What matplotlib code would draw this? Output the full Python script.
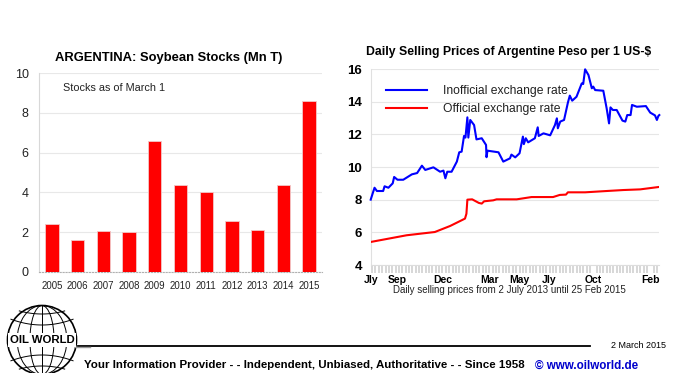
import matplotlib
matplotlib.use("Agg")
import matplotlib.pyplot as plt
from matplotlib.patches import Circle, Ellipse, Rectangle
import numpy as np

plt.rcParams['font.family'] = ['Liberation Sans', 'DejaVu Sans']

#------------------------------------------------------------------------------
# Data
#------------------------------------------------------------------------------
years = ['2005', '2006', '2007', '2008', '2009', '2010', '2011', '2012', '2013', '2014', '2015']
stocks = [2.4, 1.58, 2.03, 1.98, 6.57, 4.38, 4.02, 2.57, 2.1, 4.38, 8.6]

# days counted from 2 July 2013
days_blue = [0, 4, 8, 13, 26, 29, 37, 46, 49, 56, 68, 86, 97, 107, 114, 131, 145, 152, 156, 160,
             169, 180, 185, 190, 195, 198, 202, 204, 208, 216, 221, 232, 241, 242, 244, 267, 277,
             291, 294, 302, 311, 318, 320, 324, 329, 343, 349, 351, 361, 375, 385, 389, 391, 396,
             404, 412, 416, 421, 430, 441, 444, 448, 455, 462, 465, 469, 486, 493, 498, 501, 506,
             514, 526, 532, 536, 543, 546, 556, 575, 584, 594, 598, 601, 603]
inofficial = [8.0, 8.37, 8.73, 8.53, 8.53, 8.82, 8.73, 9.0, 9.39, 9.22, 9.22, 9.55, 9.63, 10.08, 9.82, 9.98, 9.71, 9.78, 9.31, 9.71,
              9.71, 10.33, 10.9, 10.94, 11.9, 11.8, 13.04, 11.8, 12.88, 12.57, 11.69, 11.76, 11.35, 10.6, 11.0, 10.9, 10.33,
              10.53, 10.76, 10.59, 10.84, 11.86, 11.4, 11.76, 11.51, 11.76, 12.43, 11.9, 12.06, 11.94, 12.57, 12.98, 12.37, 12.78,
              12.88, 13.94, 14.37, 14.06, 14.3, 15.12, 15.08, 15.98, 15.63, 14.82, 14.92, 14.71, 14.67, 13.59, 12.67, 13.65, 13.49,
              13.49, 12.84, 12.78, 13.18, 13.18, 13.8, 13.69, 13.73, 13.33, 13.16, 12.88, 13.12, 13.18]

days_red = [0, 75, 134, 166, 197, 200, 202, 212, 226, 232, 237, 256, 263, 305, 336, 381, 395, 408, 412, 448, 493, 528, 563, 603]
official = [5.41, 5.82, 6.02, 6.39, 6.84, 7.14, 8.0, 8.02, 7.8, 7.76, 7.9, 7.96, 8.02, 8.02, 8.16, 8.16, 8.29, 8.31, 8.45, 8.45, 8.53, 8.59, 8.63, 8.78]

month_days = [0, 56, 151, 249, 310, 372, 465, 584]
month_labels = ['Jly', 'Sep', 'Dec', 'Mar', 'May', 'Jly', 'Oct', 'Feb']

W, H = 675., 373.
fig = plt.figure(figsize=(W/100, H/100), dpi=100, facecolor='white')

def box(x0, ytop, x1, ybot):
  return [x0/W, 1-ybot/H, (x1-x0)/W, (ybot-ytop)/H]

#------------------------------------------------------------------------------
# Soybean stocks
#------------------------------------------------------------------------------
ax1 = fig.add_axes(box(39, 73.3, 322, 271.7))
ax1.bar(range(len(years)), stocks, width=0.52, color='#ff0000', edgecolor='#f3c8c8', linewidth=0.6, zorder=3)
ax1.set_xlim(-0.5, 10.5)
ax1.set_ylim(0, 10)
ax1.set_yticks(range(0, 11, 2))
ax1.set_xticks(range(len(years)))
ax1.set_xticklabels(years, fontsize=6.9, color='#222222')
ax1.tick_params(axis='y', length=0, labelsize=9, labelcolor='#222222', pad=7.5)
ax1.tick_params(axis='x', length=0, pad=7)
ax1.grid(axis='y', color='#e8e8e8', lw=0.8, zorder=0)
for s in ['top', 'right']:
  ax1.spines[s].set_visible(False)
ax1.spines['left'].set_color('#d8d8d8')
ax1.spines['bottom'].set_color('#b0b0b0')
ax1.spines['bottom'].set_linestyle(':')
fig.text(63/W, 1-88/H, 'Stocks as of March 1', fontsize=7.8, color='#222222', va='center')
fig.text(168.5/W, 1-58.5/H, 'ARGENTINA: Soybean Stocks (Mn T)', fontsize=9.35, fontweight='bold', ha='center', va='center')

#------------------------------------------------------------------------------
# Exchange rates
#------------------------------------------------------------------------------
ax2 = fig.add_axes(box(370.7, 69, 659.3, 265))
ax2.plot(days_blue, inofficial, color='#0000ff', lw=1.5, label='Inofficial exchange rate', zorder=3, clip_on=False)
ax2.plot(days_red, official, color='#ff0000', lw=1.5, label='Official exchange rate', zorder=3)
ax2.set_xlim(0, 603)
ax2.set_ylim(4, 16)
ax2.set_yticks(range(4, 17, 2))
ax2.set_xticks(month_days)
ax2.set_xticklabels(month_labels, fontweight='bold', fontsize=7.5)
ax2.set_xticks(np.arange(3, 604, 7), minor=True)
ax2.tick_params(axis='y', length=0, labelsize=9.5, pad=6)
for lab in ax2.get_yticklabels():
  lab.set_fontweight('bold')
ax2.tick_params(axis='x', which='major', length=0, pad=7)
ax2.tick_params(axis='x', which='minor', length=6, width=1.3, color='#d4d4d4')
ax2.grid(axis='y', color='#e6e6e6', lw=0.8, zorder=0)
for s in ['top', 'right']:
  ax2.spines[s].set_visible(False)
ax2.spines['left'].set_color('#e0e0e0')
ax2.spines['bottom'].set_color('#dddddd')
ax2.legend(loc='upper left', bbox_to_anchor=(0.015, 0.975), frameon=False, fontsize=8.7, handlelength=3.4,
           handletextpad=1.3, labelspacing=0.5, labelcolor='#222222')
fig.text(509/W, 1-290.3/H, 'Daily selling prices from 2 July 2013 until 25 Feb 2015', fontsize=7, color='#222222', ha='center', va='center')
fig.text(508.5/W, 1-52/H, 'Daily Selling Prices of Argentine Peso per 1 US-$', fontsize=8.8, fontweight='bold', ha='center', va='center')

#------------------------------------------------------------------------------
# Footer with logo
#------------------------------------------------------------------------------
page = fig.add_axes([0, 0, 1, 1], zorder=5)
page.set_xlim(0, W)
page.set_ylim(H, 0)
page.axis('off')
page.patch.set_alpha(0)

page.plot([78, 590], [346, 346], color='black', lw=1.3)
page.plot([75, 90], [346.5, 346.5], color='#999999', lw=1)
page.text(666, 345, '2 March 2015', fontsize=6.5, ha='right', va='center')

cx, cy, r = 42., 340., 34.5
page.add_patch(Circle((cx, cy), r, fc='white', ec='black', lw=1.2))
for w in [0.35, 0.72]:
  page.add_patch(Ellipse((cx, cy), 2*r*w, 2*r, fc='none', ec='black', lw=0.7))
page.plot([cx, cx], [cy-r, cy+r], color='black', lw=0.7)
for dy in [-26, -15, 15, 26]:
  xs = np.linspace(-np.sqrt(r**2-dy**2), np.sqrt(r**2-dy**2), 30)
  page.plot(cx+xs, cy+dy+np.sign(dy)*xs**2*0.006, color='black', lw=0.7)
page.add_patch(Rectangle((8, 333), 68, 14, fc='white', ec='none', zorder=4))
page.text(cx, 340.3, 'OIL WORLD', fontsize=8.2, fontweight='bold', ha='center', va='center', zorder=5)

page.text(84, 365.5, 'Your Information Provider - - Independent, Unbiased, Authoritative - - Since 1958', fontsize=8.25,
          fontweight='bold', ha='left', va='center')
page.text(535, 365.5, '\u00a9 www.oilworld.de', fontsize=8.35, fontweight='bold', color='#0000cc', ha='left', va='center')

fig.savefig('out.png', dpi=100)
